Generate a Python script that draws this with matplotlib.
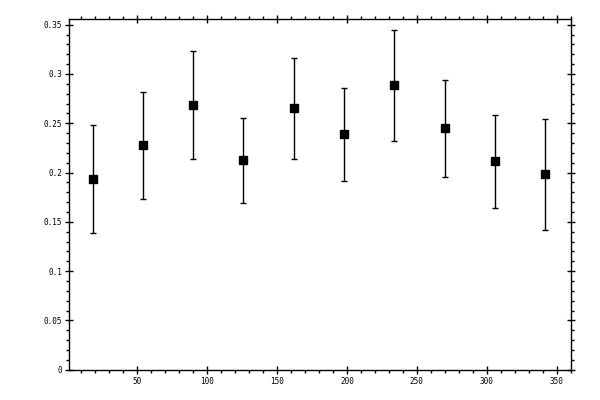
import matplotlib
matplotlib.use("Agg")
import matplotlib.pyplot as plt
from matplotlib.ticker import MultipleLocator, FormatStrFormatter, FuncFormatter

x_vals = [18, 54, 90, 126, 162, 198, 234, 270, 306, 342]
y_vals = [0.193, 0.2276, 0.2681, 0.2124, 0.2651, 0.2387, 0.2884, 0.2448, 0.2114, 0.1982]
y_err = [0.0548, 0.0545, 0.0548, 0.0431, 0.0512, 0.0472, 0.0563, 0.0494, 0.047, 0.0566]

fig = plt.figure(figsize=(6, 4), dpi=100)
ax = fig.add_axes([0.1155, 0.0758, 0.8355, 0.876])

ax.errorbar(x_vals, y_vals, yerr=y_err, fmt='s', color='black', ecolor='black',
            markersize=5.2, elinewidth=1.0, capsize=2.2, capthick=1.0)

ax.set_xlim(1.4, 360)
ax.set_ylim(0, 0.3555)

ax.xaxis.set_major_locator(MultipleLocator(50))
ax.xaxis.set_minor_locator(MultipleLocator(10))
ax.yaxis.set_major_locator(MultipleLocator(0.05))
ax.yaxis.set_minor_locator(MultipleLocator(0.01))

def yfmt(v, pos):
    s = ('%.2f' % v).rstrip('0').rstrip('.')
    return s
ax.yaxis.set_major_formatter(FuncFormatter(yfmt))
ax.xaxis.set_major_formatter(FormatStrFormatter('%d'))

for sp in ax.spines.values():
    sp.set_linewidth(1.0)

ax.tick_params(which='major', direction='inout', length=6, width=1.0,
               top=True, right=True, labelsize=5.5, pad=2)
ax.tick_params(which='minor', direction='out', length=2.5, width=1.0,
               top=True, right=True)
for lab in ax.get_xticklabels() + ax.get_yticklabels():
    lab.set_family('DejaVu Sans Mono')

fig.savefig('out.png', dpi=100)
